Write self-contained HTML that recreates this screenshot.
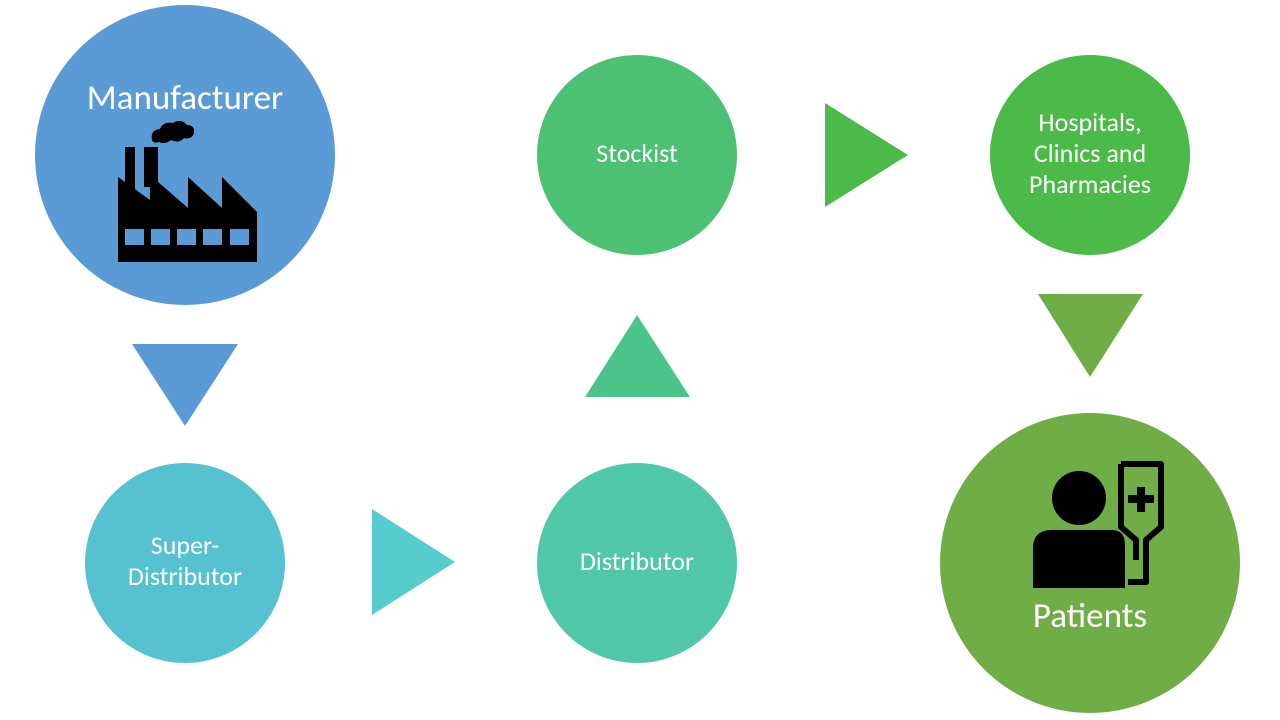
<!DOCTYPE html>
<html><head><meta charset="utf-8"><style>
html,body{margin:0;padding:0;background:#fff;}
svg{display:block}
text{font-family:"Carlito","Liberation Sans",sans-serif;fill:#fff;text-anchor:middle}
</style></head><body>
<svg width="1280" height="720" viewBox="0 0 1280 720">
<circle cx="185" cy="155" r="150" fill="#5B9BD5"/>
<circle cx="637" cy="155" r="100" fill="#4CC173"/>
<circle cx="1090" cy="155" r="100" fill="#4BBA48"/>
<circle cx="185" cy="563" r="100" fill="#56C1D0"/>
<circle cx="637" cy="563" r="100" fill="#50C8A8"/>
<circle cx="1090" cy="563" r="150" fill="#70AD47"/>
<polygon points="132,344 238,344 185,426" fill="#5B9BD5"/>
<polygon points="372,509 372,615 455,562" fill="#56CCCC"/>
<polygon points="585,397 690,397 637,315" fill="#4CC38A"/>
<polygon points="825,103 825,207 908,155" fill="#4BBA48"/>
<polygon points="1038,294 1143,294 1090,377" fill="#70AD47"/>
<!-- factory -->
<g fill="#000">
<rect x="125" y="147" width="10" height="60"/>
<rect x="144" y="147" width="14" height="40"/>
<path d="M118,177 L150,200 L150,175 L188,208 L188,177 L222,208 L222,177 L257,212 L257,262 L118,262 Z"/>
<path d="M150,200 L152,212 L118,195 Z"/>
<path d="M152,140 q-2,-10 8,-11 q3,-8 13,-6 q8,-5 14,2 q8,0 7,8 q-2,7 -10,5 q-5,6 -13,2 q-6,5 -12,2 q-6,2 -7,-2 z"/>
</g>
<g fill="#5B9BD5">
<rect x="125" y="229" width="19" height="16"/>
<rect x="151" y="229" width="19" height="16"/>
<rect x="177" y="229" width="19" height="16"/>
<rect x="203" y="229" width="19" height="16"/>
<rect x="230" y="229" width="19" height="16"/>
</g>
<!-- patient -->
<g>
<circle cx="1079" cy="498" r="27" fill="#000"/>
<path d="M1033,588 L1033,548 Q1033,530 1052,530 L1112,530 Q1125,530 1125,545 L1125,588 Z" fill="#000"/>
<path d="M1121,464 L1161,464 L1161,527 L1146,540 L1146,582 L1128,582" fill="none" stroke="#000" stroke-width="6" stroke-linejoin="round"/>
<path d="M1121,464 L1121,527 L1136,540 L1136,560" fill="none" stroke="#000" stroke-width="6" stroke-linejoin="round"/>
<rect x="1137" y="487" width="8" height="25" fill="#000"/>
<rect x="1128" y="495" width="26" height="8" fill="#000"/>
</g>
<text x="185" y="109" font-size="35">Manufacturer</text>
<text x="637" y="162" font-size="26">Stockist</text>
<text x="1090" y="131" font-size="26">Hospitals,</text>
<text x="1090" y="162" font-size="26">Clinics and</text>
<text x="1090" y="193" font-size="26">Pharmacies</text>
<text x="185" y="554" font-size="26">Super-</text>
<text x="185" y="585" font-size="26">Distributor</text>
<text x="637" y="570" font-size="26">Distributor</text>
<text x="1090" y="627" font-size="35">Patients</text>
</svg>
</body></html>
